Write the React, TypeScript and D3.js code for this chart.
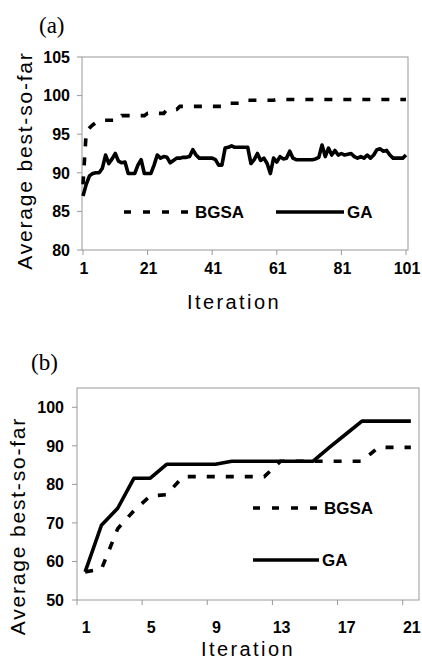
import * as d3 from "d3";

// panel (a): 101 iterations
const iterA = d3.range(1, 102);
const bgsaA = [
  88.5, 95.3, 95.8, 96.2, 96.5, 96.8, 96.8, 96.8, 96.8, 96.8,
  96.8, 96.8, 97.4, 97.4, 97.4, 97.4, 97.4, 97.4, 97.4, 97.4,
  97.7, 97.7, 97.7, 97.7, 97.7, 97.7, 98.2, 98.2, 98.2, 98.2,
  98.6, 98.6, 98.6, 98.6, 98.6, 98.6, 98.6, 98.6, 98.6, 98.6,
  98.6, 98.6, 98.6, 98.6, 98.6, 99.0, 99.0, 99.0, 99.0, 99.0,
  99.4, 99.4, 99.4, 99.4, 99.4, 99.4, 99.4, 99.4, 99.4, 99.4,
  99.5, 99.5, 99.5, 99.5, 99.5, 99.5, 99.5, 99.5, 99.5, 99.5,
  99.5, 99.5, 99.5, 99.5, 99.5, 99.5, 99.5, 99.5, 99.5, 99.5,
  99.5, 99.5, 99.5, 99.5, 99.5, 99.5, 99.5, 99.5, 99.5, 99.5,
  99.5, 99.5, 99.5, 99.5, 99.5, 99.5, 99.5, 99.5, 99.5, 99.5,
  99.5,
];
const gaA = [
  87.0, 88.5, 89.6, 89.9, 90.0, 90.0, 90.6, 92.3, 91.2, 91.8,
  92.5, 91.5, 91.3, 91.4, 89.9, 89.9, 89.9, 91.0, 91.7, 89.9,
  89.9, 89.9, 91.0, 92.3, 91.9, 92.1, 92.0, 91.3, 91.6, 91.9,
  91.9, 92.0, 92.0, 92.1, 93.0, 92.3, 91.9, 91.9, 91.9, 91.9,
  91.9, 91.7, 91.0, 91.0, 93.2, 93.3, 93.5, 93.3, 93.3, 93.3,
  93.3, 93.3, 91.2, 91.7, 92.5, 91.6, 91.9, 91.2, 89.9, 91.9,
  91.4, 92.1, 91.8, 91.9, 92.8, 91.9, 91.7, 91.7, 91.7, 91.7,
  91.7, 91.7, 91.8, 92.0, 93.6, 92.1, 93.2, 92.3, 92.9, 92.3,
  92.5, 92.3, 92.4, 92.5, 92.1, 91.9, 92.1, 91.9, 92.3, 91.9,
  92.3, 93.0, 93.1, 92.8, 92.9, 92.3, 91.9, 91.9, 91.9, 91.9,
  92.3,
];
const xTicksA = [1, 21, 41, 61, 81, 101];
const yTicksA = [80, 85, 90, 95, 100, 105];

// panel (b): 21 iterations
const iterB = d3.range(1, 22);
const bgsaB = [57.3, 58, 68.5, 73.2, 77, 77.3, 82, 82, 82, 82, 82, 82, 86, 86, 86, 86, 86, 86, 89.6, 89.6, 89.6];
const gaB = [57.3, 69.4, 73.8, 81.6, 81.6, 85.2, 85.2, 85.2, 85.2, 86, 86, 86, 86, 86, 86, 89.6, 93, 96.4, 96.4, 96.4, 96.4];
const xLabelsB = [1, 5, 9, 13, 17, 21];
const yTicksB = [50, 60, 70, 80, 90, 100];

const SANS = "'Liberation Sans', Arial, sans-serif";
const SERIF = "'Liberation Serif', 'Times New Roman', serif";
const DASH = "8 11";
const LW = 3.6;

const PanelA = () => {
  const left = 82, right = 408, top = 57, bottom = 250;
  const x = d3.scaleLinear().domain([1, 101]).range([83, 406]);
  const y = d3.scaleLinear().domain([80, 105]).range([bottom, top]);
  const line = d3.line<number>().x((_, i) => x(iterA[i])).y((d) => y(d));
  return (
    <g>
      <text x={39} y={33} fontFamily={SERIF} fontSize={23}>(a)</text>
      <rect x={left} y={top} width={right - left} height={bottom - top} fill="none" stroke="#999" strokeWidth={1} />
      {yTicksA.map((t) => (
        <g key={t}>
          <line x1={left - 5} x2={left} y1={y(t)} y2={y(t)} stroke="#999" />
          <text x={left - 12} y={y(t)} dy="0.36em" textAnchor="end" fontFamily={SANS} fontWeight="bold" fontSize={16}>{t}</text>
        </g>
      ))}
      {xTicksA.map((t) => (
        <g key={t}>
          <line x1={x(t)} x2={x(t)} y1={bottom} y2={bottom + 5} stroke="#999" />
          <text x={x(t) + 1} y={bottom + 24} textAnchor="middle" fontFamily={SANS} fontWeight="bold" fontSize={16}>{t}</text>
        </g>
      ))}
      <path d={line(bgsaA) || ""} fill="none" stroke="#000" strokeWidth={LW} strokeDasharray={DASH} />
      <path d={line(gaA) || ""} fill="none" stroke="#000" strokeWidth={LW} strokeLinejoin="round" />
      <line x1={124} x2={190} y1={212} y2={212} stroke="#000" strokeWidth={LW} strokeDasharray="7 12" />
      <text x={195} y={218} fontFamily={SANS} fontWeight="bold" fontSize={17}>BGSA</text>
      <line x1={276} x2={344} y1={212} y2={212} stroke="#000" strokeWidth={LW} />
      <text x={347} y={218} fontFamily={SANS} fontWeight="bold" fontSize={17}>GA</text>
      <text transform={`translate(32,${(top + bottom) / 2 + 7}) rotate(-90)`} textAnchor="middle" fontFamily={SANS} fontSize={21} letterSpacing={1.8}>Average best-so-far</text>
      <text x={234} y={309} textAnchor="middle" fontFamily={SANS} fontSize={20} letterSpacing={2.4}>Iteration</text>
    </g>
  );
};

const PanelB = () => {
  const left = 77, right = 419, top = 388, bottom = 600;
  const x = d3.scaleBand<number>().domain(iterB).range([left, right]);
  const cx = (i: number) => (x(i) || 0) + x.bandwidth() / 2;
  const y = d3.scaleLinear().domain([50, 105]).range([bottom, top]);
  const line = d3.line<number>().x((_, i) => cx(iterB[i])).y((d) => y(d));
  const tickEdges = [1, 5, 9, 13, 17, 21];
  return (
    <g>
      <text x={31} y={370} fontFamily={SERIF} fontSize={23}>(b)</text>
      <rect x={left} y={top} width={right - left} height={bottom - top} fill="none" stroke="#999" strokeWidth={1} />
      {yTicksB.map((t) => (
        <g key={t}>
          <line x1={left - 5} x2={left} y1={y(t)} y2={y(t)} stroke="#999" />
          <text x={left - 13} y={y(t)} dy="0.36em" textAnchor="end" fontFamily={SANS} fontWeight="bold" fontSize={16}>{t}</text>
        </g>
      ))}
      {tickEdges.map((t) => (
        <line key={t} x1={x(t) || 0} x2={x(t) || 0} y1={bottom} y2={bottom + 5} stroke="#999" />
      ))}
      {xLabelsB.map((t) => (
        <text key={t} x={cx(t) + 1} y={bottom + 33} textAnchor="middle" fontFamily={SANS} fontWeight="bold" fontSize={16}>{t}</text>
      ))}
      <path d={line(bgsaB) || ""} fill="none" stroke="#000" strokeWidth={LW} strokeDasharray={DASH} />
      <path d={line(gaB) || ""} fill="none" stroke="#000" strokeWidth={LW} strokeLinejoin="round" />
      <line x1={253} x2={319} y1={508} y2={508} stroke="#000" strokeWidth={LW} strokeDasharray="7 12" />
      <text x={324} y={514} fontFamily={SANS} fontWeight="bold" fontSize={17}>BGSA</text>
      <line x1={253} x2={319} y1={560} y2={560} stroke="#000" strokeWidth={LW} />
      <text x={322} y={566} fontFamily={SANS} fontWeight="bold" fontSize={17}>GA</text>
      <text transform={`translate(25,${(top + bottom) / 2 + 32}) rotate(-90)`} textAnchor="middle" fontFamily={SANS} fontSize={21} letterSpacing={1.8}>Average best-so-far</text>
      <text x={248} y={656} textAnchor="middle" fontFamily={SANS} fontSize={20} letterSpacing={2.4}>Iteration</text>
    </g>
  );
};

export default function App() {
  return (
    <svg width={422} height={661} style={{ position: "absolute", left: 0, top: 0, background: "#fff" }}>
      <rect width={422} height={661} fill="#fff" />
      <PanelA />
      <PanelB />
    </svg>
  );
}
